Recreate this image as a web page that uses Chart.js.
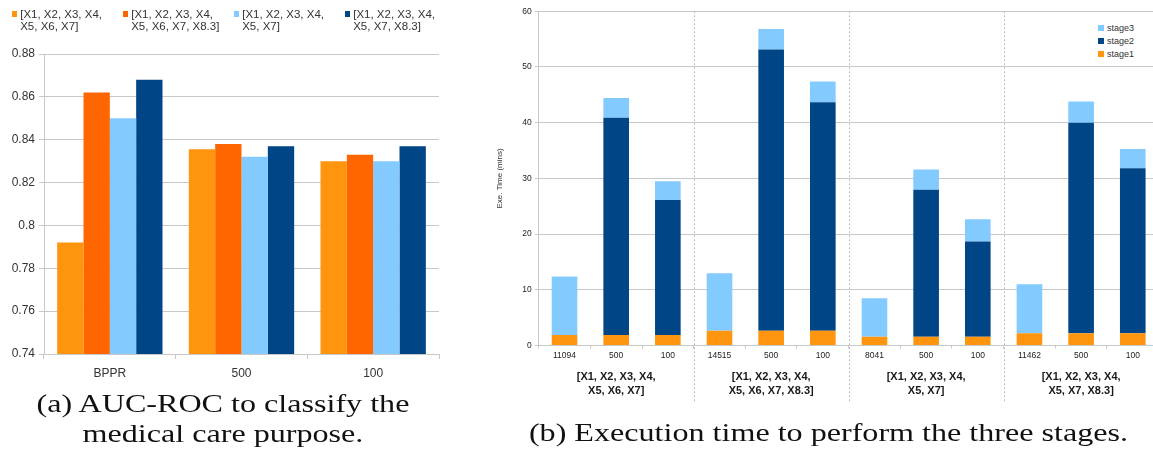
<!DOCTYPE html>
<html>
<head>
<meta charset="utf-8">
<script src="https://cdn.jsdelivr.net/npm/chart.js@4.4.0/dist/chart.umd.min.js"></script>
<style>
  html, body { margin: 0; padding: 0; background: #fff; }
  body { width: 1153px; height: 452px; overflow: hidden; position: relative; font-family: "Liberation Sans", Arial, sans-serif; }
  #aucCanvas { position: absolute; left: 0; top: 0; }
  #timeCanvas { position: absolute; left: 480px; top: 0; }
  .legend-a { position: absolute; left: 11.7px; top: 8px; display: flex; }
  .legend-a .item { width: 111px; display: flex; align-items: flex-start; font-size: 11.5px; line-height: 12px; color: #333; }
  .legend-a .swatch { width: 5px; height: 6px; margin-top: 3px; margin-right: 3.5px; flex: none; }
  .legend-b { position: absolute; left: 1093px; top: 20px; width: 50px; background: #fff; padding: 1px 0; }
  .legend-b .item { display: flex; align-items: center; height: 13px; font-size: 9px; color: #333; }
  .legend-b .swatch { width: 6px; height: 6px; margin: 0 3px 0 5px; flex: none; }
  .caption { position: absolute; font-family: "Liberation Serif", "DejaVu Serif", serif; font-size: 26px; line-height: 30px; color: #111; text-align: center; white-space: nowrap; transform: scaleX(1.235); transform-origin: center top; }
  #capA { left: 0; width: 446px; top: 389px; }
  #capB { left: 478px; width: 701px; top: 418px; }
</style>
</head>
<body>
<canvas id="aucCanvas" width="460" height="385"></canvas>
<canvas id="timeCanvas" width="690" height="410"></canvas>
<div class="legend-a" id="legendA"></div>
<div class="legend-b" id="legendB"></div>
<div class="caption" id="capA">(a) AUC-ROC to classify the<br>medical care purpose.</div>
<div class="caption" id="capB">(b) Execution time to perform the three stages.</div>
<script>
  // chart (a): AUC-ROC per feature set
  const aucGroups = ["BPPR", "500", "100"];
  const featureSets = [
    ["[X1, X2, X3, X4,", "X5, X6, X7]"],
    ["[X1, X2, X3, X4,", "X5, X6, X7, X8.3]"],
    ["[X1, X2, X3, X4,", "X5, X7]"],
    ["[X1, X2, X3, X4,", "X5, X7, X8.3]"],
  ];
  const featureColors = ["#ff950e", "#ff6600", "#83caff", "#004586"];
  const aucSet1 = [0.792, 0.8355, 0.830];
  const aucSet2 = [0.862, 0.838, 0.833];
  const aucSet3 = [0.850, 0.832, 0.830];
  const aucSet4 = [0.868, 0.837, 0.837];
  const aucMin = 0.74;
  const aucMax = 0.88;
  const aucStep = 0.02;

  // chart (b): execution time per stage (minutes)
  const timeTicks = ["11094", "500", "100", "14515", "500", "100", "8041", "500", "100", "11462", "500", "100"];
  const stageNames = ["stage1", "stage2", "stage3"];
  const stageColors = ["#ff950e", "#004586", "#83caff"];
  const stage1 = [1.9, 1.9, 1.9, 2.65, 2.65, 2.65, 1.55, 1.55, 1.55, 2.2, 2.2, 2.2];
  const stage2 = [0, 39.0, 24.2, 0, 50.5, 41.0, 0, 26.4, 17.1, 0, 37.8, 29.6];
  const stage3 = [10.5, 3.55, 3.4, 10.3, 3.65, 3.75, 6.95, 3.65, 4.0, 8.8, 3.8, 3.5];
  const timeMax = 60;
  const timeStep = 10;

  const gridGrey = "#c8c8c8";
  const textGrey = "#333";
  const sans = "'Liberation Sans', Arial, sans-serif";

  function buildLegendA() {
    const box = document.getElementById("legendA");
    featureSets.forEach((lines, i) => {
      const item = document.createElement("div");
      item.className = "item";
      item.innerHTML = `<span class="swatch" style="background:${featureColors[i]}"></span><span>${lines.join("<br>")}</span>`;
      box.appendChild(item);
    });
  }

  function buildLegendB() {
    const box = document.getElementById("legendB");
    for (let i = stageNames.length - 1; i >= 0; i -= 1) {
      const item = document.createElement("div");
      item.className = "item";
      item.innerHTML = `<span class="swatch" style="background:${stageColors[i]}"></span><span>${stageNames[i]}</span>`;
      box.appendChild(item);
    }
  }

  function drawAucChart() {
    const values = [aucSet1, aucSet2, aucSet3, aucSet4];
    new Chart(document.getElementById("aucCanvas"), {
      type: "bar",
      data: {
        labels: aucGroups,
        datasets: values.map((data, i) => ({
          label: featureSets[i].join(" "),
          data: data,
          backgroundColor: featureColors[i],
          borderWidth: 0,
          categoryPercentage: 0.8,
          barPercentage: 1.0,
        })),
      },
      options: {
        responsive: false,
        animation: false,
        layout: { padding: { top: 54, right: 21, bottom: 0, left: 0 } },
        plugins: { legend: { display: false }, tooltip: { enabled: false } },
        scales: {
          x: {
            offset: true,
            grid: {
              offset: true,
              color: (ctx) => (ctx.index === aucGroups.length ? gridGrey : "transparent"),
              tickColor: gridGrey,
              tickLength: 5,
            },
            border: { color: gridGrey },
            ticks: { color: textGrey, font: { family: sans, size: 12 }, padding: 7 },
            afterFit: (scale) => { scale.height = 31; },
          },
          y: {
            min: aucMin,
            max: aucMax,
            grid: { color: gridGrey, tickLength: 5 },
            border: { color: gridGrey },
            ticks: {
              stepSize: aucStep,
              color: textGrey,
              font: { family: sans, size: 12 },
              padding: 4,
              callback: (v) => String(+v.toFixed(2)),
            },
            afterFit: (scale) => { scale.width = 44; },
          },
        },
      },
    });
  }

  const groupSeparators = {
    id: "groupSeparators",
    afterDraw(chart) {
      const xs = chart.scales.x;
      const bottom = chart.scales.grp.bottom;
      const ctx = chart.ctx;
      ctx.save();
      ctx.strokeStyle = "#bdbdbd";
      ctx.lineWidth = 1;
      ctx.setLineDash([2, 2]);
      for (let g = 1; g < featureSets.length; g += 1) {
        const i = g * 3;
        const px = Math.round((xs.getPixelForValue(i - 1) + xs.getPixelForValue(i)) / 2) + 0.5;
        ctx.beginPath();
        ctx.moveTo(px, chart.chartArea.top);
        ctx.lineTo(px, bottom);
        ctx.stroke();
      }
      ctx.restore();
    },
  };

  function drawTimeChart() {
    const stages = [stage1, stage2, stage3];
    new Chart(document.getElementById("timeCanvas"), {
      type: "bar",
      data: {
        labels: timeTicks,
        datasets: stages.map((data, i) => ({
          label: stageNames[i],
          data: data,
          backgroundColor: stageColors[i],
          borderWidth: 0,
          categoryPercentage: 1.0,
          barPercentage: 0.496,
          stack: "time",
        })),
      },
      options: {
        responsive: false,
        animation: false,
        layout: { padding: { top: 11.3, right: 11.4, bottom: 8, left: 0 } },
        plugins: { legend: { display: false }, tooltip: { enabled: false } },
        scales: {
          x: {
            stacked: true,
            weight: 0,
            offset: true,
            grid: { offset: true, drawOnChartArea: false, tickColor: gridGrey, tickLength: 3 },
            border: { color: gridGrey },
            ticks: { color: "#222", font: { family: sans, size: 8.5 }, padding: 2, maxRotation: 0, autoSkip: false },
            afterFit: (scale) => { scale.height = 16; },
          },
          grp: {
            type: "category",
            position: "bottom",
            weight: 1,
            labels: featureSets,
            offset: true,
            grid: { display: false },
            border: { display: false },
            ticks: { color: "#1a1a1a", font: { family: sans, size: 11, weight: "bold", lineHeight: 1.23 }, padding: 1, maxRotation: 0, autoSkip: false },
            afterFit: (scale) => { scale.height = 40.5; },
          },
          y: {
            stacked: true,
            min: 0,
            max: timeMax,
            grid: { color: gridGrey, tickLength: 4 },
            border: { color: gridGrey },
            ticks: { stepSize: timeStep, color: "#222", font: { family: sans, size: 8.5 }, padding: 3 },
            title: {
              display: true,
              text: "Exe. Time (mins)",
              color: textGrey,
              font: { family: sans, size: 8 },
              padding: { top: 15, bottom: 0 },
            },
            afterFit: (scale) => { scale.width = 58.7; },
          },
        },
      },
      plugins: [groupSeparators],
    });
  }

  document.addEventListener("DOMContentLoaded", function () {
    buildLegendA();
    buildLegendB();
    drawAucChart();
    drawTimeChart();
  });
</script>
</body>
</html>
